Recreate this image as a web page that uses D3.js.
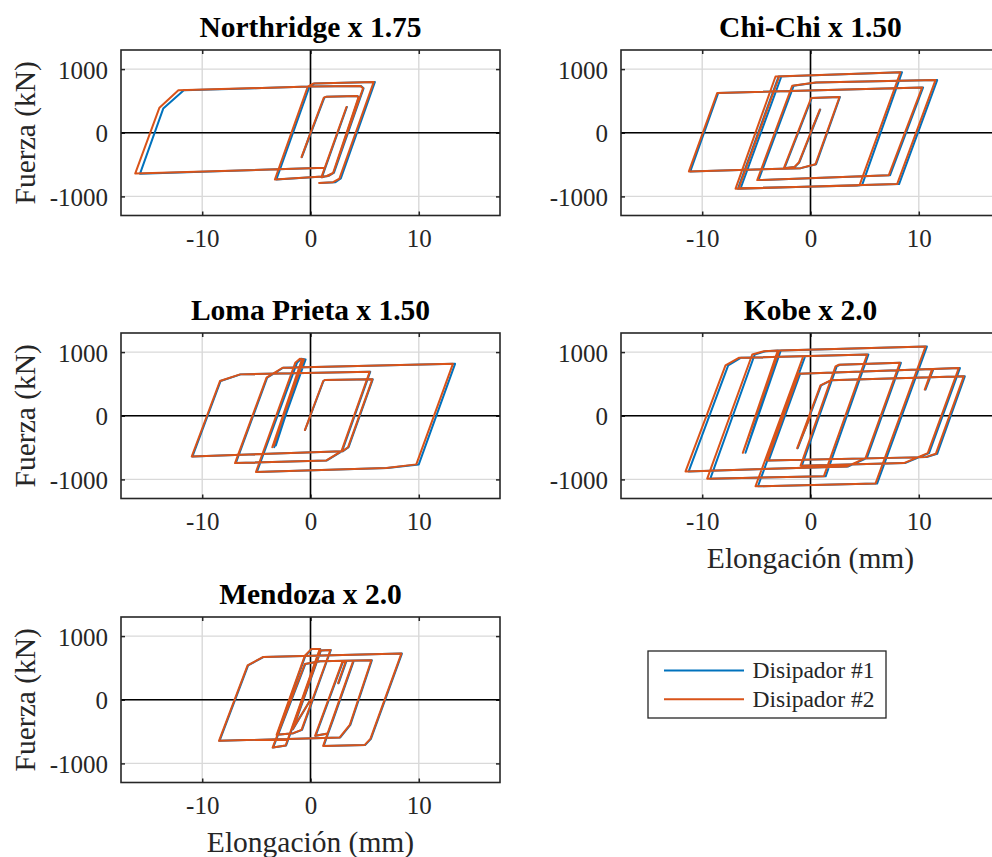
<!DOCTYPE html>
<html><head><meta charset="utf-8">
<script src="https://cdn.jsdelivr.net/npm/d3@7"></script>
<style>
html,body{margin:0;padding:0;background:#fff;}
svg{display:block;font-family:"Liberation Serif","Times New Roman",serif;}
</style></head>
<body>
<svg id="chart" width="992" height="857"></svg>
<script>
// ---------------- DATA ----------------
const panelTitles = ["Northridge x 1.75","Chi-Chi x 1.50","Loma Prieta x 1.50","Kobe x 2.0","Mendoza x 2.0"];
const seriesNames = ["Disipador #1","Disipador #2"];
const xTickValues = [-10, 0, 10];
const yTickValues = [-1000, 0, 1000];
const xLabelText = "Elongación (mm)";
const yLabelText = "Fuerza (kN)";

// [elongation mm, force kN]
const northridgeD1 = [[0,0],[-0.80,-383],[1.28,551],[1.52,567],[4.34,578],[4.46,551],[2.14,-630],[1.68,-677],[1.06,-698],[3.36,404],[1.36,-551],[-15.75,-645],[-13.60,380],[-11.70,667],[-0.05,725],[4.66,735],[4.90,698],[2.16,-630],[1.52,-683],[-3.15,-735],[-0.10,725],[0.35,772],[5.95,798],[2.80,-719],[2.30,-777],[0.85,-788]];
const northridgeD2 = [[0,0],[-0.83,-383],[1.23,551],[1.47,567],[4.30,578],[4.42,551],[2.09,-630],[1.63,-677],[1.01,-698],[3.32,404],[1.32,-551],[-16.19,-641],[-13.95,394],[-12.20,667],[-0.12,725],[4.61,735],[4.85,698],[2.09,-630],[1.47,-683],[-3.29,-735],[-0.25,725],[0.25,772],[5.84,798],[2.67,-719],[2.09,-777],[0.80,-788]];

const chichiD1 = [[0,0],[0.90,364],[-1.04,-468],[-1.44,-536],[-2.40,-556],[0.12,546],[2.72,562],[0.52,-494],[-0.88,-556],[-11.10,-608],[-8.52,624],[10.40,712],[7.35,-666],[-4.80,-744],[-1.55,738],[0.56,790],[11.70,827],[8.18,-806],[-6.70,-879],[-2.95,884],[8.45,952],[4.78,-816],[4.50,-830],[-6.45,-872],[-2.70,880]];
const chichiD2 = [[0,0],[0.86,364],[-1.08,-468],[-1.48,-536],[-2.46,-556],[0.06,546],[2.68,562],[0.46,-494],[-0.92,-556],[-11.23,-608],[-8.62,624],[10.31,712],[7.23,-666],[-4.92,-744],[-1.69,738],[0.46,790],[11.54,827],[8.00,-806],[-6.92,-879],[-3.23,884],[8.31,952],[4.55,-816],[4.30,-830],[-6.62,-872],[-2.90,880]];

const lomaD1 = [[0,0],[-0.50,-224],[1.20,546],[1.35,562],[5.75,572],[3.52,-494],[3.00,-556],[-10.90,-640],[-8.30,546],[-6.45,650],[5.52,692],[2.92,-556],[1.52,-702],[-6.90,-744],[-4.00,598],[-2.52,754],[13.35,816],[10.00,-764],[7.10,-822],[-4.95,-884],[-1.25,832],[-0.85,894],[-0.45,884],[-3.35,-494],[-0.65,868],[-3.20,-468]];
const lomaD2 = [[0,0],[-0.52,-224],[1.17,546],[1.32,562],[5.71,572],[3.47,-494],[2.95,-556],[-10.97,-640],[-8.36,546],[-6.51,650],[5.47,692],[2.86,-556],[1.47,-702],[-6.97,-744],[-4.06,598],[-2.58,754],[13.15,816],[9.77,-764],[7.00,-822],[-5.04,-884],[-1.41,832],[-0.98,894],[-0.61,884],[-3.53,-494],[-0.83,868],[-3.38,-468]];

const kobeD1 = [[0,0],[-1.18,-510],[0.98,478],[1.90,556],[14.25,619],[11.70,-598],[10.72,-650],[-3.85,-702],[-0.95,660],[11.30,733],[10.62,411],[11.35,733],[13.80,749],[10.95,-588],[8.72,-744],[-0.80,-785],[2.42,775],[2.72,801],[8.35,832],[5.20,-666],[3.50,-796],[-11.25,-874],[-7.60,790],[-6.45,910],[5.35,962],[1.40,-952],[-9.25,-988],[-5.15,962],[-4.15,1014],[-2.90,1024],[-6.00,-582],[-2.75,1024],[10.75,1087],[6.15,-1066],[-4.85,-1108],[-0.50,931],[-1.90,270]];
const kobeD2 = [[0,0],[-1.23,-510],[0.92,478],[1.85,556],[14.15,619],[11.57,-598],[10.62,-650],[-4.00,-702],[-1.08,660],[11.23,733],[10.55,411],[11.29,733],[13.69,749],[10.83,-588],[8.62,-744],[-0.92,-785],[2.31,775],[2.62,801],[8.25,832],[5.08,-666],[3.38,-796],[-11.54,-874],[-7.85,790],[-6.62,910],[5.23,962],[1.23,-952],[-9.54,-988],[-5.38,962],[-4.31,1014],[-3.02,1024],[-6.25,-582],[-2.89,1024],[10.62,1087],[6.00,-1066],[-5.08,-1108],[-0.68,931],[-2.06,270]];

const mendozaD1 = [[0,0],[-1.62,-462],[0.96,772],[1.88,782],[-0.78,-473],[-1.55,-525],[-3.08,-551],[-0.47,693],[0.13,798],[0.90,798],[-2.25,-719],[-3.45,-751],[-0.47,562],[0.91,604],[5.67,620],[3.68,-394],[2.75,-593],[-8.40,-646],[-5.76,541],[-4.31,672],[8.44,725],[5.58,-614],[5.06,-709],[1.22,-725],[3.98,604],[2.14,-289],[1.63,-530],[0.48,-565],[2.98,590],[3.30,600],[2.60,260]];
const mendozaD2 = [[0,0],[-1.66,-462],[0.92,772],[1.84,782],[-0.83,-473],[-1.60,-525],[-3.13,-551],[-0.52,693],[0.09,798],[0.86,798],[-2.30,-719],[-3.50,-751],[-0.52,562],[0.86,604],[5.62,620],[3.63,-394],[2.70,-593],[-8.45,-646],[-5.81,541],[-4.36,672],[8.39,725],[5.53,-614],[5.01,-709],[1.17,-725],[3.93,604],[2.09,-289],[1.58,-530],[0.43,-565],[2.93,590],[3.25,600],[2.55,260]];

// ---------------- LAYOUT ----------------
const colors = ["#0072BD", "#D95319"];
const panelData = [
  [northridgeD1, northridgeD2],
  [chichiD1, chichiD2],
  [lomaD1, lomaD2],
  [kobeD1, kobeD2],
  [mendozaD1, mendozaD2]
];
const panelPos = [
  {left:121, top:50, xlabel:false},
  {left:621, top:50, xlabel:false},
  {left:121, top:333, xlabel:false},
  {left:621, top:333, xlabel:true},
  {left:121, top:617, xlabel:true}
];
const W = 379, H = 165.5;
const xDomain = [-17.5, 17.5], yDomain = [-1300, 1300];
const serif = "Liberation Serif, Times New Roman, serif";

const svg = d3.select("#chart");
svg.append("rect").attr("width",992).attr("height",857).attr("fill","#fff");

panelPos.forEach((p, i) => {
  const x = d3.scaleLinear().domain(xDomain).range([0, W]);
  const y = d3.scaleLinear().domain(yDomain).range([H, 0]);
  const g = svg.append("g").attr("transform", `translate(${p.left},${p.top})`);

  // grid
  g.append("g").selectAll("line").data(xTickValues).join("line")
    .attr("x1", d=>x(d)).attr("x2", d=>x(d)).attr("y1",0).attr("y2",H)
    .attr("stroke","#d9d9d9").attr("stroke-width",1.4);
  g.append("g").selectAll("line").data(yTickValues).join("line")
    .attr("y1", d=>y(d)).attr("y2", d=>y(d)).attr("x1",0).attr("x2",W)
    .attr("stroke","#d9d9d9").attr("stroke-width",1.4);

  // axes with inward ticks
  const ax = g.append("g").attr("transform",`translate(0,${H})`)
    .call(d3.axisBottom(x).tickValues(xTickValues).tickSize(-4).tickPadding(14).tickFormat(d3.format("d")));
  const axT = g.append("g")
    .call(d3.axisTop(x).tickValues(xTickValues).tickSize(-4).tickFormat(""));
  const ay = g.append("g")
    .call(d3.axisLeft(y).tickValues(yTickValues).tickSize(-4).tickPadding(13).tickFormat(d3.format("d")));
  const ayR = g.append("g").attr("transform",`translate(${W},0)`)
    .call(d3.axisRight(y).tickValues(yTickValues).tickSize(-4).tickFormat(""));
  [ax, axT, ay, ayR].forEach(a => {
    a.select(".domain").remove();
    a.selectAll(".tick line").attr("stroke","#262626").attr("stroke-width",1.5);
  });
  ax.selectAll(".tick text").attr("font-size",25).attr("fill","#262626")
    .attr("font-family",serif)
    .text(d => d < 0 ? "-" + Math.abs(d) : d);
  ay.selectAll(".tick text").attr("font-size",25).attr("fill","#262626")
    .attr("font-family",serif)
    .attr("dy","0.36em")
    .text(d => d < 0 ? "-" + Math.abs(d) : d);

  // zero lines
  g.append("line").attr("x1",x(0)).attr("x2",x(0)).attr("y1",0).attr("y2",H)
    .attr("stroke","#000").attr("stroke-width",1.6);
  g.append("line").attr("x1",0).attr("x2",W).attr("y1",y(0)).attr("y2",y(0))
    .attr("stroke","#000").attr("stroke-width",1.6);

  // data
  const line = d3.line().x(d=>x(d[0])).y(d=>y(d[1]));
  panelData[i].forEach((s, k) => {
    g.append("path").attr("d", line(s)).attr("fill","none")
      .attr("stroke", colors[k]).attr("stroke-width",2)
      .attr("stroke-linejoin","round").attr("stroke-linecap","round");
  });

  // box
  g.append("rect").attr("x",0).attr("y",0).attr("width",W).attr("height",H)
    .attr("fill","none").attr("stroke","#262626").attr("stroke-width",1.6);

  // title
  svg.append("text").attr("x", p.left + W/2).attr("y", p.top - 13)
    .attr("text-anchor","middle").attr("font-size",29.5).attr("font-weight","bold")
    .attr("fill","#000").text(panelTitles[i]);

  // axis labels
  if (p.left < 300) {
    svg.append("text").attr("transform",`translate(34.5,${p.top + H/2}) rotate(-90)`)
      .attr("text-anchor","middle").attr("font-size",29.5).attr("fill","#262626").text(yLabelText);
  }
  if (p.xlabel) {
    svg.append("text").attr("x", p.left + W/2).attr("y", p.top + H + 69)
      .attr("text-anchor","middle").attr("font-size",29.5).attr("fill","#262626").text(xLabelText);
  }
});

// legend
const lg = svg.append("g");
lg.append("rect").attr("x",648).attr("y",651).attr("width",238).attr("height",67)
  .attr("fill","#fff").attr("stroke","#262626").attr("stroke-width",1.3);
seriesNames.forEach((n, k) => {
  const yy = 670.5 + k*28.7;
  lg.append("line").attr("x1",664).attr("x2",744).attr("y1",yy).attr("y2",yy)
    .attr("stroke",colors[k]).attr("stroke-width",2);
  lg.append("text").attr("x",752.5).attr("y",yy+7.5).attr("font-size",23.5)
    .attr("fill","#262626").text(n);
});
</script>
</body></html>
